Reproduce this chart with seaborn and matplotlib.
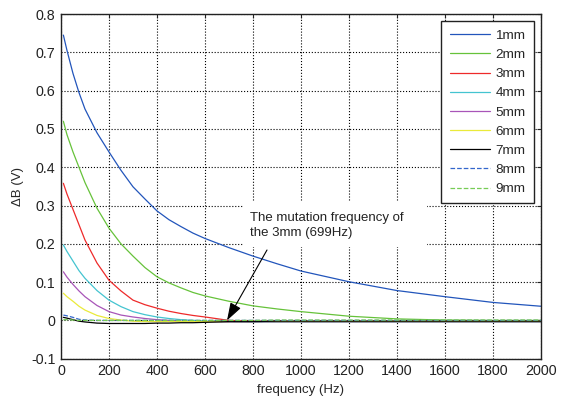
import matplotlib
matplotlib.use("Agg")
import matplotlib.pyplot as plt
from matplotlib.patches import Rectangle
import seaborn as sns
import pandas as pd

freq = [10, 25, 50, 75, 100, 150, 200, 250, 300, 350, 400, 450, 500, 550, 600, 700, 800, 900, 1000, 1200, 1400, 1600, 1800, 2000]

mm1 = [0.745, 0.705, 0.645, 0.595, 0.552, 0.49, 0.44, 0.392, 0.349, 0.317, 0.286, 0.263, 0.245, 0.228, 0.214, 0.19, 0.168, 0.148, 0.129, 0.101, 0.078, 0.062, 0.047, 0.037]
mm2 = [0.52, 0.485, 0.44, 0.40, 0.36, 0.293, 0.241, 0.20, 0.168, 0.138, 0.114, 0.098, 0.085, 0.073, 0.064, 0.05, 0.038, 0.030, 0.023, 0.011, 0.004, 0.001, 0.0, 0.0]
mm3 = [0.358, 0.33, 0.29, 0.25, 0.21, 0.15, 0.105, 0.077, 0.053, 0.041, 0.032, 0.024, 0.018, 0.013, 0.009, 0.0, -0.002, -0.002, -0.002, -0.002, -0.002, -0.002, -0.002, -0.002]
mm4 = [0.197, 0.18, 0.155, 0.13, 0.11, 0.078, 0.053, 0.036, 0.023, 0.015, 0.009, 0.005, 0.002, 0.0, -0.002, -0.004, -0.005, -0.005, -0.005, -0.005, -0.005, -0.005, -0.005, -0.005]
mm5 = [0.127, 0.113, 0.094, 0.077, 0.062, 0.039, 0.023, 0.014, 0.009, 0.005, 0.002, 0.0, -0.002, -0.003, -0.003, -0.004, -0.004, -0.004, -0.004, -0.004, -0.004, -0.004, -0.004, -0.004]
mm6 = [0.071, 0.062, 0.05, 0.037, 0.027, 0.013, 0.005, 0.001, -0.002, -0.003, -0.003, -0.003, -0.003, -0.003, -0.003, -0.003, -0.003, -0.003, -0.003, -0.003, -0.003, -0.003, -0.003, -0.003]
mm7 = [0.008, 0.006, 0.002, -0.002, -0.004, -0.007, -0.008, -0.008, -0.008, -0.008, -0.007, -0.007, -0.006, -0.006, -0.005, -0.003, -0.003, -0.002, -0.002, -0.002, -0.002, -0.002, -0.002, -0.002]
mm8 = [0.014, 0.012, 0.008, 0.003, 0.001, 0.0, 0.0, 0.0, 0.0, 0.0, 0.0, 0.0, 0.0, 0.0, 0.0, 0.0, 0.0, 0.0, 0.0, 0.0, 0.0, 0.0, 0.0, 0.0]
mm9 = [0.002, 0.002, 0.001, 0.0, 0.0, 0.0, 0.0, 0.0, 0.0, 0.0, 0.0, 0.0, 0.0, 0.0, 0.0, 0.0, 0.0, 0.001, 0.001, 0.001, 0.001, 0.001, 0.001, 0.001]

labels = ["1mm", "2mm", "3mm", "4mm", "5mm", "6mm", "7mm", "8mm", "9mm"]
series = [mm1, mm2, mm3, mm4, mm5, mm6, mm7, mm8, mm9]
colors = ["#2255bb", "#66c23a", "#ee2a2a", "#44c4d0", "#a855b8", "#eaea3a", "#000000", "#3366cc", "#77cc55"]
styles = ["-", "-", "-", "-", "-", "-", "-", "--", "--"]

xticks = [0, 200, 400, 600, 800, 1000, 1200, 1400, 1600, 1800, 2000]
yticks = [-0.1, 0, 0.1, 0.2, 0.3, 0.4, 0.5, 0.6, 0.7, 0.8]
ytick_labels = ["-0.1", "0", "0.1", "0.2", "0.3", "0.4", "0.5", "0.6", "0.7", "0.8"]

sns.set_theme(style="white")
plt.rcParams['font.family'] = ['Liberation Sans', 'DejaVu Sans']

FS = 9.5
fig = plt.figure(figsize=(5.62, 3.98), dpi=100)
ax = fig.add_axes([0.1085, 0.0987, 0.854, 0.866])

for lab, vals, c, ls in zip(labels, series, colors, styles):
    df = pd.DataFrame({"f": freq, "v": vals})
    sns.lineplot(data=df, x="f", y="v", ax=ax, color=c, linestyle=ls, linewidth=0.9, label=lab)

ax.set_xlim(0, 2000)
ax.set_ylim(-0.1, 0.8)
ax.set_xticks(xticks)
ax.set_yticks(yticks)
ax.set_yticklabels(ytick_labels)
ax.tick_params(direction="in", top=True, right=True, length=3, labelsize=10.3, colors="#222222", width=0.8, pad=4)
ax.grid(True, linestyle=":", color="black", linewidth=0.8)
for s in ax.spines.values():
    s.set_color("#222222")
    s.set_linewidth(1.0)

ax.set_xlabel("frequency (Hz)", fontsize=FS, labelpad=4)
ax.set_ylabel("\u0394B (V)", fontsize=FS, labelpad=5)

# white annotation box (figure pixels, origin bottom-left)
H = 398
box = Rectangle((243, H - 247), 184, 45, transform=None, facecolor="white", edgecolor="none", zorder=5)
fig.patches.append(box)
fig.text(250.5 / 562, (H - 225.5) / H, "The mutation frequency of\nthe 3mm (699Hz)", fontsize=FS,
         ha="left", va="center", linespacing=1.35, zorder=6, color="#222222")
ax.annotate("", xy=(692, 0.0), xycoords="data", xytext=(267, H - 250), textcoords="figure pixels",
            arrowprops=dict(arrowstyle="-|>,head_length=0.9,head_width=0.3", color="black", lw=0.8,
                            shrinkA=0, shrinkB=0), zorder=7)

leg = ax.legend(loc="upper right", fontsize=9.7, frameon=True, fancybox=False, handlelength=3.0,
                handletextpad=0.4, borderaxespad=0.55, labelspacing=0.5, borderpad=0.6)
leg.get_frame().set_edgecolor("#222222")
leg.get_frame().set_linewidth(1.0)
leg.get_frame().set_alpha(1)

fig.savefig("out.png", dpi=100)
